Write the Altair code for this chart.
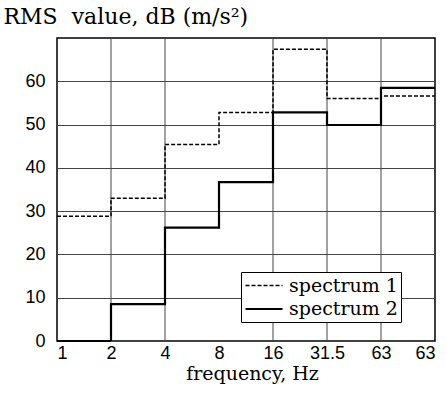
import altair as alt
import pandas as pd

freq_labels = ["1", "2", "4", "8", "16", "31.5", "63", "63"]
spectrum1 = [28.8, 33.0, 45.4, 52.8, 67.4, 56.0, 56.6]
spectrum2 = [0.0, 8.5, 26.2, 36.7, 52.8, 49.9, 58.5]
series_names = ["spectrum 1", "spectrum 2"]
grid_x = [1, 2, 4, 5, 6]

rows = []
for name, vals in zip(series_names, [spectrum1, spectrum2]):
    ext = vals + [vals[-1]]
    for i, v in enumerate(ext):
        rows.append({"series": name, "idx": i, "value": v})
df = pd.DataFrame(rows)
grid_df = pd.DataFrame({"idx": grid_x})

label_js = "[" + ",".join('"%s"' % s for s in freq_labels) + "][datum.value]"

xscale = alt.Scale(domain=[0, 7], nice=False, zero=False)
yscale = alt.Scale(domain=[0, 70], nice=False)

xaxis = alt.Axis(values=list(range(8)), labelExpr=label_js, grid=False,
                 ticks=False, domain=False, title="frequency, Hz",
                 labelFont="Liberation Sans", labelFontSize=18,
                 labelColor="black", labelPadding=3,
                 titleFont="DejaVu Serif", titleFontSize=19,
                 titleFontWeight="normal", titleColor="black",
                 titleX=195, titleAlign="center",
                 titlePadding=2)

legend = alt.Legend(title=None, orient="none", legendX=184, legendY=234,
                    symbolType="M -1 0 H 2.9", symbolSize=361,
                    symbolStrokeColor="black",
                    labelFont="DejaVu Serif", labelFontSize=19,
                    labelColor="black", labelOffset=23,
                    strokeColor="black", fillColor="white",
                    padding=3, rowPadding=2)

grid = alt.Chart(grid_df).mark_rule(color="#444", strokeWidth=1).encode(
    x=alt.X("idx:Q", scale=xscale, axis=xaxis)
)

lines = alt.Chart(df).mark_line(interpolate="step-after", color="black").encode(
    x=alt.X("idx:Q", scale=xscale, axis=xaxis),
    y=alt.Y("value:Q", scale=yscale,
            axis=alt.Axis(values=[0, 10, 20, 30, 40, 50, 60], grid=True,
                          gridColor="#444", gridWidth=1, ticks=False, domain=False,
                          labelFont="Liberation Sans", labelFontSize=18,
                          labelColor="black", labelPadding=12,
                          title="RMS\u00a0 value, dB (m/s²)", titleAngle=0,
                          titleAlign="left", titleBaseline="alphabetic",
                          titleX=-54, titleY=-15,
                          titleFont="DejaVu Serif", titleFontSize=22,
                          titleFontWeight="normal", titleColor="black")),
    strokeDash=alt.StrokeDash("series:N",
                              scale=alt.Scale(domain=series_names, range=[[4, 2], [1, 0]]),
                              legend=legend),
    strokeWidth=alt.StrokeWidth("series:N",
                                scale=alt.Scale(domain=series_names, range=[1.5, 2.2]),
                                legend=legend),
)

chart = alt.layer(grid, lines).properties(
    width=378, height=303,
    autosize=alt.AutoSizeParams(type="none"),
    padding={"left": 57, "top": 38, "right": 11, "bottom": 58},
    background="white",
).configure_view(stroke="black", strokeWidth=1.5)

chart.save("out.html", embed_options={"renderer": "svg", "actions": False})
